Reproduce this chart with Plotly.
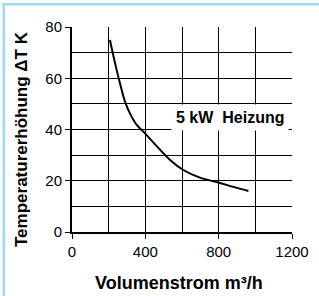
import plotly.graph_objects as go

# Data
volumenstrom = [207, 235, 262, 289, 316, 353, 398, 462, 535, 607, 698, 798, 880, 962]
temperatur = [74.9, 65.8, 58, 50.9, 46.3, 41.8, 38.5, 33.5, 28.1, 24.2, 21.2, 19.3, 17.6, 16]
x_ticks = [0, 400, 800, 1200]
y_ticks = [0, 20, 40, 60, 80]
label_text = "5 kW  Heizung"
x_title = "Volumenstrom m³/h"
y_title = "Temperaturerhöhung ΔT K"

W, H = 319, 296
L, R, T, B = 72, 27, 27, 64
pw, ph = W - L - R, H - T - B

def px(x):
    return (x - L) / pw

def py(y):
    return (H - B - y) / ph

fig = go.Figure()
fig.add_trace(go.Scatter(
    x=volumenstrom, y=temperatur, mode="lines",
    line=dict(color="black", width=2, shape="spline", smoothing=1.0),
    hoverinfo="skip", showlegend=False,
))

fig.add_annotation(
    x=862, y=44.5, xref="x", yref="y", text="<b>" + label_text.replace("  ", "&nbsp; ") + "</b>",
    showarrow=False, bgcolor="white", borderpad=4,
    font=dict(family="Liberation Sans, Arial", size=16, color="black"),
)

# axis titles
fig.add_annotation(
    x=px(179), y=py(283), xref="paper", yref="paper", text="<b>" + x_title + "</b>",
    showarrow=False, xanchor="center", yanchor="middle",
    font=dict(family="Liberation Sans, Arial", size=18, color="black"),
)
fig.add_annotation(
    x=px(21), y=py(139), xref="paper", yref="paper", text="<b>" + y_title + "</b>",
    showarrow=False, xanchor="center", yanchor="middle", textangle=-90,
    font=dict(family="Liberation Sans, Arial", size=17, color="black"),
)

# light blue frame (top and left edges)
border = "#9dd8f5"
fig.add_shape(type="rect", xref="paper", yref="paper",
              x0=px(2.5), x1=px(W + 5), y0=py(3), y1=py(5.5),
              fillcolor=border, line=dict(width=0), layer="above")
fig.add_shape(type="rect", xref="paper", yref="paper",
              x0=px(2.5), x1=px(5), y0=py(3), y1=py(H + 5),
              fillcolor=border, line=dict(width=0), layer="above")

font = dict(family="Liberation Sans, Arial", size=14, color="black")
fig.update_layout(
    width=W, height=H, margin=dict(l=L, r=R, t=T, b=B, autoexpand=False),
    paper_bgcolor="white", plot_bgcolor="white",
    font=font,
    xaxis=dict(
        range=[0, 1200], tickvals=x_ticks, ticktext=[str(v) for v in x_ticks],
        showgrid=True, gridcolor="black", gridwidth=1,
        minor=dict(dtick=200, showgrid=True, gridcolor="black", gridwidth=1),
        showline=True, linecolor="black", linewidth=2,
        ticks="outside", ticklen=5, tickcolor="black", tickwidth=1,
        zeroline=False, fixedrange=True, automargin=False,
        tickfont=dict(size=15),
    ),
    yaxis=dict(
        range=[0, 80], tickvals=y_ticks, ticktext=[str(v) for v in y_ticks],
        showgrid=True, gridcolor="black", gridwidth=1,
        minor=dict(dtick=10, showgrid=True, gridcolor="black", gridwidth=1),
        showline=True, linecolor="black", linewidth=2,
        ticks="outside", ticklen=5, tickcolor="black", tickwidth=1,
        zeroline=False, fixedrange=True, automargin=False,
        tickfont=dict(size=15),
    ),
)

fig.write_html("out.html", config={"displayModeBar": False},
               post_script="document.body.style.margin='0';")
